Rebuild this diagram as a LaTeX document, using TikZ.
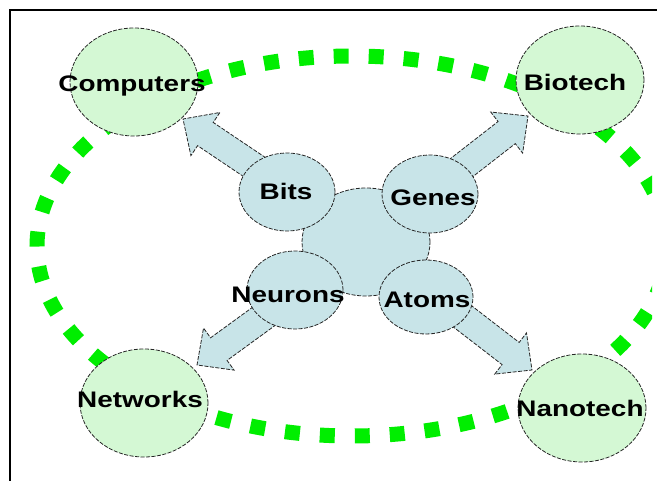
\documentclass[tikz,border=0pt]{standalone}
\usepackage{fontspec}
\usepackage{graphicx}
\setmainfont{Liberation Sans}
\usetikzlibrary{shapes.geometric,calc}

\definecolor{leafgreen}{RGB}{212,248,212}
\definecolor{paleblue}{RGB}{200,228,232}
\definecolor{dotgreen}{RGB}{0,238,0}

\pgfdeclarelayer{bg}
\pgfsetlayers{bg,main}

% horizontally stretched label text
\newcommand{\wide}[1]{\scalebox{1.24}[1]{#1}}

% block arrow from #1 (start) to #2 (tip)
\newcommand{\fatarrow}[2]{%
  \coordinate (fa-h) at ($(#2)!27pt!(#1)$);
  \filldraw[arrowbody]
    ($(#1)!14pt!90:(#2)$) -- ($(fa-h)!14pt!90:(#2)$) -- ($(fa-h)!26pt!90:(#2)$)
    -- (#2)
    -- ($(fa-h)!26pt!-90:(#2)$) -- ($(fa-h)!14pt!-90:(#2)$) -- ($(#1)!14pt!-90:(#2)$)
    -- cycle;
}

\tikzset{
  outline/.style={draw=black!85, line width=0.8pt, dash pattern=on 4pt off 1.5pt},
  bigcirc/.style={ellipse, outline, fill=leafgreen, inner sep=0pt,
    minimum width=128pt, minimum height=108pt},
  smallcirc/.style={ellipse, outline, fill=paleblue, inner sep=0pt,
    minimum width=96pt, minimum height=78pt},
  hubcirc/.style={ellipse, outline, fill=paleblue, inner sep=0pt,
    minimum width=128pt, minimum height=108pt},
  word/.style={font=\bfseries\fontsize{22.5}{24}\selectfont, inner sep=0pt, anchor=base},
  arrowbody/.style={outline, fill=paleblue, line join=miter},
  ring/.style={draw=dotgreen, line width=15pt, dash pattern=on 15pt off 20pt}
}

\begin{document}
\begin{tikzpicture}[x=1pt,y=-1pt]
\useasboundingbox (0,0) rectangle (657,481);

% central hub and the four inner topics
\node[hubcirc] (hub) at (366,242) {};
\node[smallcirc] (bits)    at (287,192) {};
\node[smallcirc] (genes)   at (430,194) {};
\node[smallcirc] (neurons) at (295,290) {};
\node[smallcirc, minimum width=94pt, minimum height=74pt] (atoms) at (426,297) {};

% the four outer fields
\node[bigcirc] (computers) at (134,82) {};
\node[bigcirc] (biotech)   at (580,80) {};
\node[bigcirc] (networks)  at (144,403) {};
\node[bigcirc] (nanotech)  at (582,408) {};

% labels
\node[word] (tComputers) at (132,92)  {\wide{Computers}};
\node[word] (tBiotech)   at (575,91)  {\wide{Biotech}};
\node[word] (tNetworks)  at (140,408) {\wide{Networks}};
\node[word] (tNanotech)  at (580,417) {\wide{Nanotech}};
\node[word] (tBits)      at (286,200) {\wide{Bits}};
\node[word] (tGenes)     at (433,206) {\wide{Genes}};
\node[word] (tNeurons)   at (288,303) {\wide{Neurons}};
\node[word] (tAtoms)     at (427,308) {\wide{Atoms}};

% arrow tips
\coordinate (tipC) at (183,119);
\coordinate (tipB) at (528,116);
\coordinate (tipW) at (197,365);
\coordinate (tipN) at (532,370);

\begin{pgfonlayer}{bg}
  % dotted green ring
  \begin{scope}
    \clip (0,0) rectangle (652,481);
    \draw[ring] (352,246) ellipse [x radius=315, y radius=190];
  \end{scope}
  % block arrows from the hub
  \fatarrow{hub}{tipC}
  \fatarrow{hub}{tipB}
  \fatarrow{hub}{tipW}
  \fatarrow{hub}{tipN}
\end{pgfonlayer}

% frame
\draw[line width=2.5pt] (10,481) -- (10,10) -- (657,10);
\end{tikzpicture}
\end{document}
